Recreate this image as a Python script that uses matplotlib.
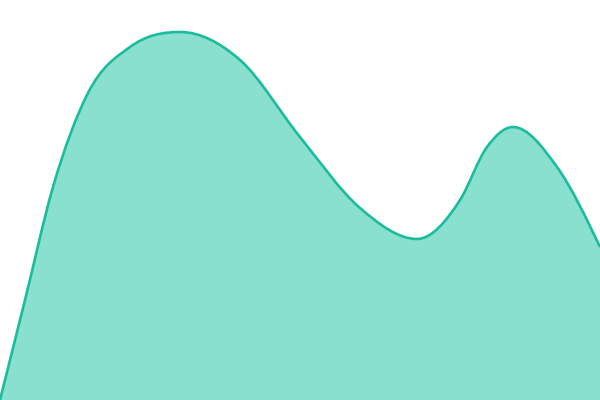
import matplotlib
matplotlib.use("Agg")
import matplotlib.pyplot as plt
from matplotlib.path import Path
from matplotlib.patches import PathPatch

# points (x in px from left, value = height above bottom)
positions = [0, 25, 53, 88, 130, 180, 240, 300, 360, 417, 460, 487, 513, 557, 600]
values = [0, 100, 213, 307, 353, 368, 340, 263, 192, 161, 200, 253, 273, 233, 153]

line_color = "#1abc9c"
fill_color = "#8ae0cf"


def sign(v):
    return (v > 0) - (v < 0)


def tangents(xs, ys):
    n = len(xs)
    t = [0.0] * n
    for i in range(1, n - 1):
        h0 = xs[i] - xs[i - 1]
        h1 = xs[i + 1] - xs[i]
        s0 = (ys[i] - ys[i - 1]) / h0
        s1 = (ys[i + 1] - ys[i]) / h1
        if sign(s0) == sign(s1):
            t[i] = (s0 * h1 + s1 * h0) / (h0 + h1)
    h = xs[1] - xs[0]
    t[0] = (3 * (ys[1] - ys[0]) / h - t[1]) / 2
    h = xs[-1] - xs[-2]
    t[-1] = (3 * (ys[-1] - ys[-2]) / h - t[-2]) / 2
    return t


def smooth_path(xs, ys, closed_base=None):
    t = tangents(xs, ys)
    verts = [(xs[0], ys[0])]
    codes = [Path.MOVETO]
    for i in range(len(xs) - 1):
        dx = (xs[i + 1] - xs[i]) / 3
        verts += [(xs[i] + dx, ys[i] + dx * t[i]),
                  (xs[i + 1] - dx, ys[i + 1] - dx * t[i + 1]),
                  (xs[i + 1], ys[i + 1])]
        codes += [Path.CURVE4] * 3
    if closed_base is not None:
        verts += [(xs[-1], closed_base), (xs[0], closed_base), (xs[0], ys[0])]
        codes += [Path.LINETO, Path.LINETO, Path.CLOSEPOLY]
    return Path(verts, codes)


fig = plt.figure(figsize=(6, 4), dpi=100)
ax = fig.add_axes([0, 0, 1, 1])

ax.add_patch(PathPatch(smooth_path(positions, values, closed_base=0),
                       facecolor=fill_color, edgecolor="none"))
ax.add_patch(PathPatch(smooth_path(positions, values),
                       facecolor="none", edgecolor=line_color, linewidth=1.9))

ax.set_xlim(0, 600)
ax.set_ylim(0, 400)
ax.axis("off")

fig.savefig("out.png", dpi=100)
plt.close("all")
